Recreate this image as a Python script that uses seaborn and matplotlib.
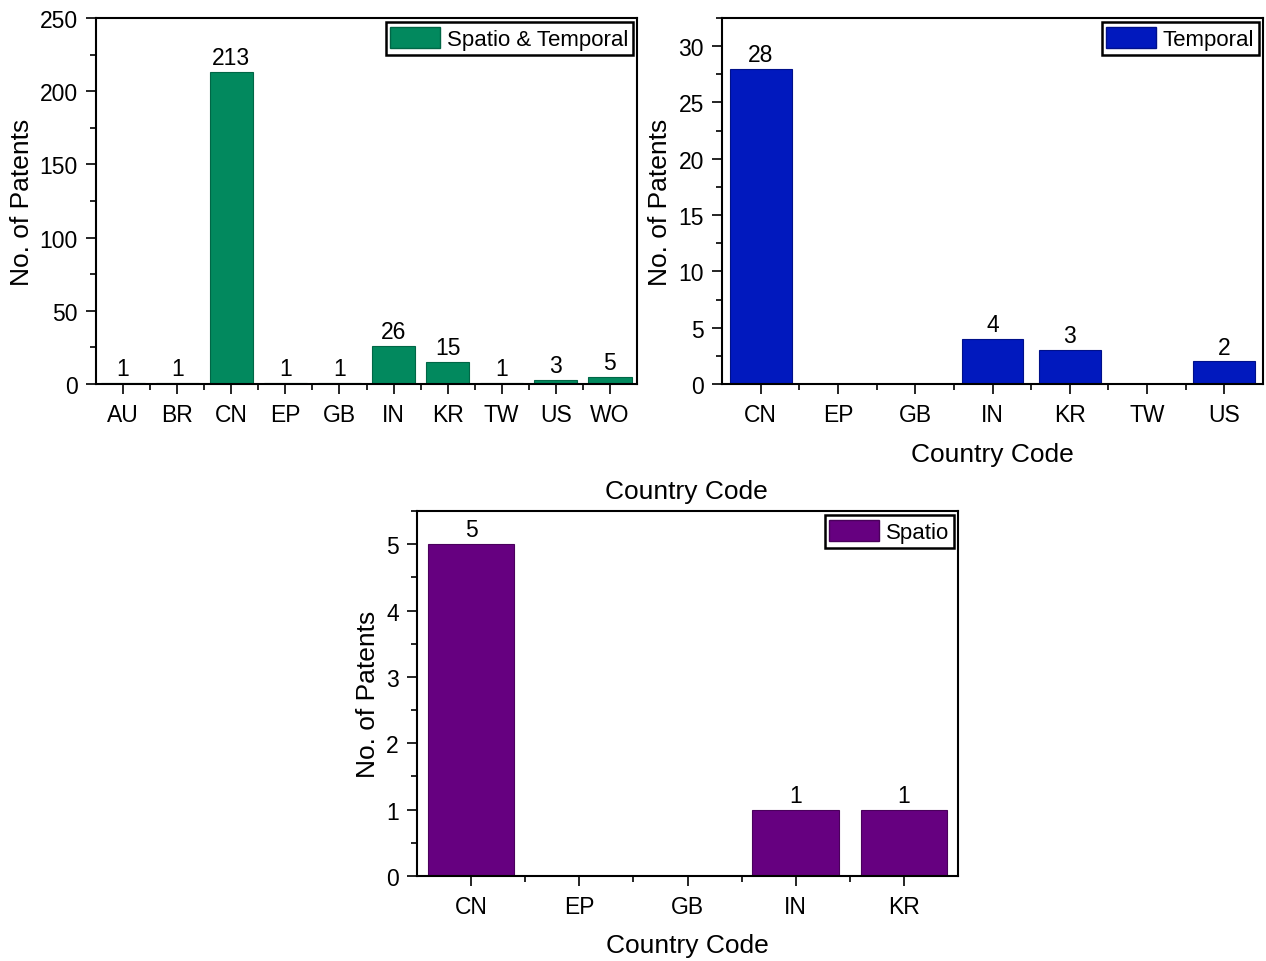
import numpy as np
import matplotlib
matplotlib.use('Agg')
import matplotlib.pyplot as plt
import seaborn as sns
from matplotlib.patches import Patch
from matplotlib.ticker import MultipleLocator, FixedLocator

# ---- data ----
st_codes = ['AU', 'BR', 'CN', 'EP', 'GB', 'IN', 'KR', 'TW', 'US', 'WO']
st_counts = [1, 1, 213, 1, 1, 26, 15, 1, 3, 5]

t_codes = ['CN', 'EP', 'GB', 'IN', 'KR', 'TW', 'US']
t_counts = [28, 0, 0, 4, 3, 0, 2]

s_codes = ['CN', 'EP', 'GB', 'IN', 'KR']
s_counts = [5, 0, 0, 1, 1]

sns.set_style('ticks')
plt.rcParams['font.family'] = ['Liberation Sans', 'DejaVu Sans']
plt.rcParams['text.color'] = 'black'
plt.rcParams['axes.labelcolor'] = 'black'
plt.rcParams['xtick.color'] = 'black'
plt.rcParams['ytick.color'] = 'black'

W, H = 1266, 962
fig = plt.figure(figsize=(W / 100, H / 100), dpi=100)
ax1 = fig.add_axes([96 / W, 1 - 385 / H, (637 - 96) / W, (385 - 19) / H])
ax2 = fig.add_axes([722 / W, 1 - 385 / H, (1263 - 722) / W, (385 - 19) / H])
ax3 = fig.add_axes([417 / W, 1 - 877 / H, (958 - 417) / W, (877 - 512) / H])


def draw(ax, codes, counts, color, edge, label, ylim, major, minor,
         xlab_xy, ylab_x):
    sns.barplot(x=codes, y=counts, color=color, saturation=1, width=0.8,
                edgecolor=edge, linewidth=0.8, ax=ax)
    ax.set_xlim(-0.5, len(codes) - 0.5)
    ax.set_ylim(*ylim)
    ax.yaxis.set_major_locator(MultipleLocator(major))
    ax.yaxis.set_minor_locator(MultipleLocator(minor))
    ax.xaxis.set_minor_locator(FixedLocator(np.arange(0.5, len(codes) - 1, 1)))
    ax.tick_params(axis='both', which='major', direction='out', length=7,
                   width=1.2, labelsize=16.5, pad=6, colors='black')
    ax.tick_params(axis='both', which='minor', direction='out', length=4,
                   width=1.2, colors='black')
    ax.tick_params(axis='x', which='major', pad=7)
    for sp in ax.spines.values():
        sp.set_visible(True)
        sp.set_linewidth(1.5)
        sp.set_color('black')
    labels = [str(v) if v else '' for v in counts]
    ax.bar_label(ax.containers[0], labels=labels, fontsize=16.5, padding=2,
                 color='black')
    ax.set_ylabel('No. of Patents', fontsize=19)
    ax.yaxis.label.set_va('center')
    ax.yaxis.set_label_coords(ylab_x, 0.5)
    ax.set_xlabel('Country Code', fontsize=19)
    ax.xaxis.label.set_va('center')
    ax.xaxis.set_label_coords(*xlab_xy)
    leg = ax.legend(handles=[Patch(facecolor=color, edgecolor=edge, label=label)],
                    loc='upper right', bbox_to_anchor=(1, 1), fontsize=16,
                    frameon=True, fancybox=False, borderpad=0.2,
                    borderaxespad=0.2, handlelength=2.25, handleheight=1.1,
                    handletextpad=0.3)
    leg.get_frame().set_edgecolor('black')
    leg.get_frame().set_linewidth(1.8)
    leg.get_frame().set_alpha(1)


draw(ax1, st_codes, st_counts, '#02895E', '#016646', 'Spatio & Temporal',
     (0, 250), 50, 25, ((686 - 96) / 541, (385 - 492) / 366), -0.137)
draw(ax2, t_codes, t_counts, '#0119BE', '#00108a', 'Temporal',
     (0, 32.5), 5, 2.5, (0.5, (385 - 455) / 366), -0.114)
draw(ax3, s_codes, s_counts, '#660080', '#4a005c', 'Spatio',
     (0, 5.5), 1, 0.5, (0.5, (877 - 946) / 365), -0.091)

fig.savefig('out.png', dpi=100)
